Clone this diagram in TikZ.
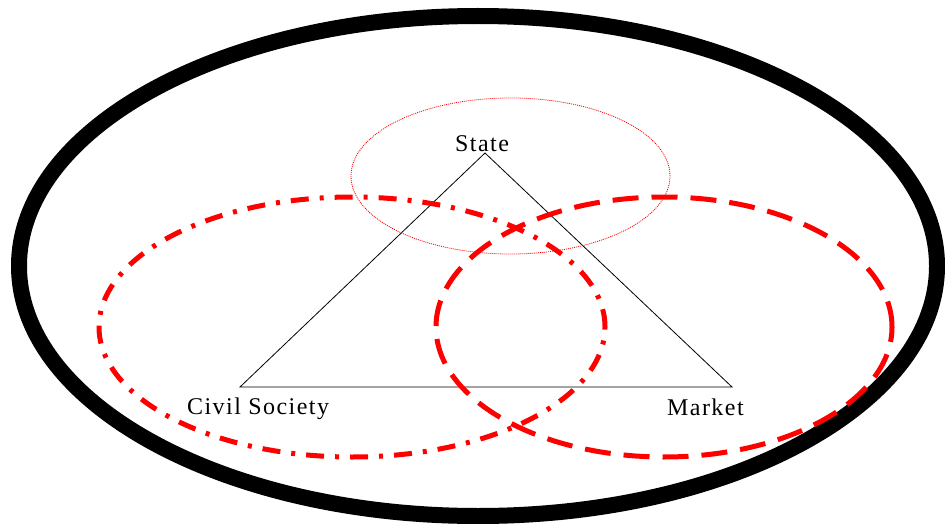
\documentclass[tikz,border=0pt]{standalone}
\usepackage{fontspec}
\setmainfont{Liberation Serif}[LetterSpace=6]
\begin{document}
\begin{tikzpicture}[x=1pt,y=-1pt,
  outer/.style={line width=16pt,black},
  stateell/.style={line width=0.8pt,red,dash pattern=on 1pt off 1pt},
  civilell/.style={line width=5pt,red,dash pattern=on 18pt off 11pt on 4pt off 11pt},
  marketell/.style={line width=5pt,red,dash pattern=on 26pt off 13pt},
  tri/.style={line width=0.8pt,black},
  lbl/.style={inner sep=0pt,anchor=base west,font=\fontsize{24}{27}\selectfont}]
\useasboundingbox (0,0) rectangle (945,524);
\clip (0,0) rectangle (945,524);
\fill[white] (0,0) rectangle (945,524);
% outer ellipse
\draw[outer] (478,266) ellipse [x radius=459pt, y radius=250pt];
% triangle
\coordinate (apex) at (485,153);
\coordinate (bl) at (240,387);
\coordinate (br) at (732,387);
\draw[tri] (apex) -- (bl) -- (br) -- cycle;
% ellipses
\draw[stateell] (510.5,176) ellipse [x radius=159.5pt, y radius=78pt];
\draw[civilell] (352,327) ellipse [x radius=253pt, y radius=130pt];
\draw[marketell] (664,327) ellipse [x radius=228pt, y radius=130pt];
% labels
\node[lbl] (state) at (455,151) {State};
\node[lbl] (civil) at (187,414) {Civil Society};
\node[lbl] (market) at (667,415) {Market};
\end{tikzpicture}
\end{document}
